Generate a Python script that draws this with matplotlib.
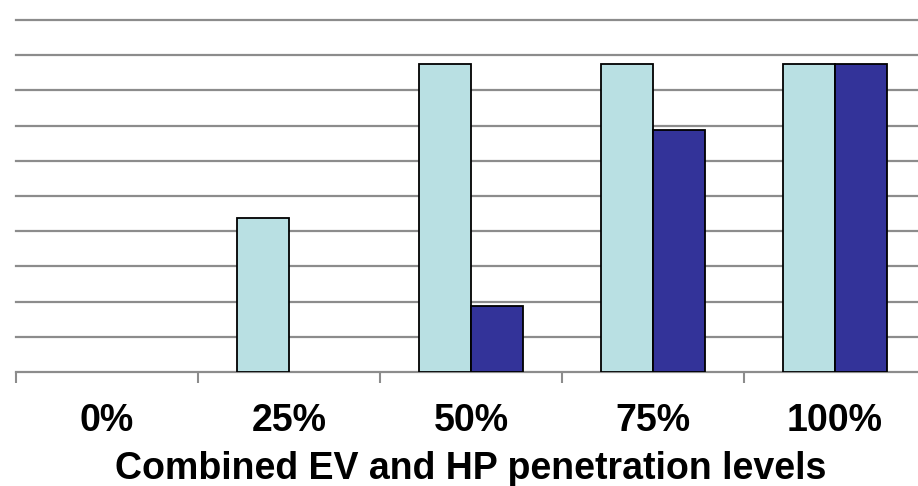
# combined EV / HP penetration bar chart

import matplotlib
matplotlib.use("Agg")
import matplotlib.pyplot as plt
import numpy as np

levels = ["0%", "25%", "50%", "75%", "100%"]
series_light = [0, 4.375, 8.75, 8.75, 8.75]
series_dark = [0, 0, 1.875, 6.875, 8.75]

plt.rcParams['font.family'] = ['Liberation Sans', 'DejaVu Sans']

fig = plt.figure(figsize=(9.18, 4.86), dpi=100)
ax = fig.add_axes([16/918, 114/486, 910/918, 352/486])

x = np.arange(len(levels))
w = 0.286
# no outline for empty bars
lw_light = [1.3 if v > 0 else 0 for v in series_light]
lw_dark = [1.3 if v > 0 else 0 for v in series_dark]
ax.bar(x - w/2, series_light, w, color="#B9E0E3", edgecolor="black", linewidth=lw_light, zorder=3)
ax.bar(x + w/2, series_dark, w, color="#333399", edgecolor="black", linewidth=lw_dark, zorder=3)

ax.set_xlim(-0.5, len(levels) - 0.5)
ax.set_ylim(0, 10)
ax.set_yticks(np.arange(1, 11))
ax.yaxis.grid(True, color="#8c8c8c", linewidth=1.6, zorder=0)
ax.tick_params(axis="y", left=False, labelleft=False)
for gl in ax.get_ygridlines():
    gl.set_clip_on(False)

ax.set_xticks(x)
ax.set_xticklabels(levels, fontsize=27, fontweight="bold")
ax.tick_params(axis="x", which="major", length=0, pad=22)
ax.set_xticks(np.arange(-0.5, len(levels)), minor=True)
ax.tick_params(axis="x", which="minor", length=8, width=1.5, color="#8c8c8c")

for s in ["left", "right", "top"]:
    ax.spines[s].set_visible(False)
ax.spines["bottom"].set_color("#8c8c8c")
ax.spines["bottom"].set_linewidth(1.6)

ax.set_xlabel("Combined EV and HP penetration levels", fontsize=27, fontweight="bold", labelpad=9)

fig.savefig("out.png", dpi=100)
